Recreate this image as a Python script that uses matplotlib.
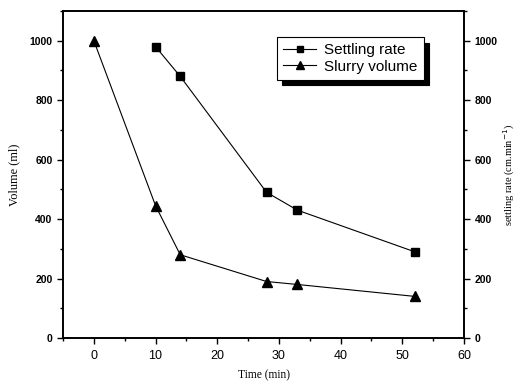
import matplotlib
matplotlib.use("Agg")
import matplotlib.pyplot as plt
from matplotlib.ticker import MultipleLocator

rate_t = [10, 14, 28, 33, 52]
rate_v = [980, 880, 490, 430, 290]
slurry_t = [0, 10, 14, 28, 33, 52]
slurry_v = [1000, 445, 280, 190, 180, 140]
xticks = [0, 10, 20, 30, 40, 50, 60]
yticks = [0, 200, 400, 600, 800, 1000]

fig = plt.figure(figsize=(5.17, 3.83), dpi=100)
ax = fig.add_axes([0.1219, 0.1175, 0.7756, 0.8538])
ax.plot(rate_t, rate_v, color='black', lw=0.8, marker='s', ms=6, label='Settling rate')
ax.plot(slurry_t, slurry_v, color='black', lw=0.8, marker='^', ms=7, label='Slurry volume')
ax.set_xlim(-5, 60)
ax.set_ylim(0, 1100)
ax.set_xticks(xticks)
ax.set_yticks(yticks)
ax.xaxis.set_minor_locator(MultipleLocator(5))
ax.yaxis.set_minor_locator(MultipleLocator(100))
ax.tick_params(which='both', direction='out', top=False, right=False, width=1)
ax.tick_params(which='major', length=4)
ax.tick_params(which='minor', length=2.5)
ax.tick_params(axis='x', pad=5)
for lab in ax.get_xticklabels():
    lab.set_fontfamily('Liberation Sans'); lab.set_fontsize(9)
for lab in ax.get_yticklabels():
    lab.set_fontfamily('Liberation Sans'); lab.set_fontsize(7.5); lab.set_fontweight('bold')
for s in ax.spines.values():
    s.set_linewidth(1.2)
ax.set_xlabel('Time (min)', fontfamily='Liberation Serif', fontsize=8.3, labelpad=5)
ax.set_ylabel('Volume (ml)', fontfamily='Liberation Serif', fontsize=8.8, labelpad=7)

ax2 = ax.twinx()
ax2.set_ylim(0, 1100)
ax2.set_yticks(yticks)
ax2.yaxis.set_minor_locator(MultipleLocator(100))
ax2.tick_params(which='both', direction='out', width=1)
ax2.tick_params(which='major', length=4)
ax2.tick_params(which='minor', length=2.5)
for lab in ax2.get_yticklabels():
    lab.set_fontfamily('Liberation Sans'); lab.set_fontsize(7.5); lab.set_fontweight('bold')
for s in ax2.spines.values():
    s.set_linewidth(1.2)
ax2.set_ylabel('settling rate (cm.min$^{-1}$)', fontfamily='Liberation Serif', fontsize=7.5, labelpad=3)

leg = ax.legend(loc='upper left', bbox_to_anchor=(0.533, 0.92), frameon=True, fancybox=False,
                shadow={'color': 'black', 'alpha': 1, 'ox': 4, 'oy': -4}, edgecolor='black', framealpha=1,
                prop={'family': 'Liberation Sans', 'size': 11}, handlelength=2.2,
                borderpad=0.4, labelspacing=0.15, handletextpad=0.5, borderaxespad=0,
                markerscale=0.75)
leg.get_frame().set_linewidth(0.8)

fig.savefig('out.png', dpi=100)
